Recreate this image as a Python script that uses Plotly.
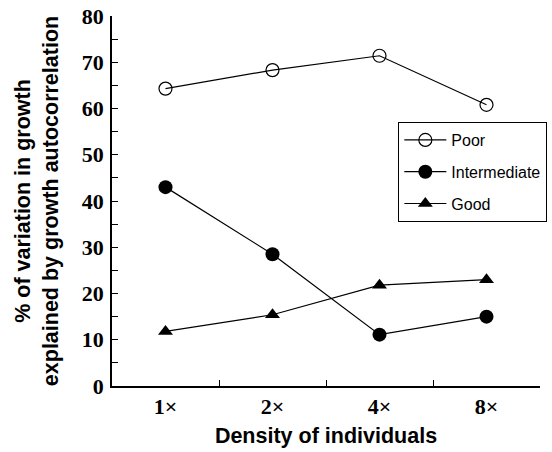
import plotly.graph_objects as go

categories = ["1×", "2×", "4×", "8×"]
poor = [64.3, 68.3, 71.4, 60.8]
intermediate = [43.0, 28.5, 11.1, 15.0]
good = [11.8, 15.4, 21.8, 23.0]

fig = go.Figure()
series = [
    ("Poor", poor, dict(symbol="circle-open", size=13, color="black", line=dict(width=1.2, color="black"))),
    ("Intermediate", intermediate, dict(symbol="circle", size=14, color="black")),
    ("Good", good, dict(symbol="triangle-up", size=13, color="black")),
]
for i, (name, vals, mk) in enumerate(series):
    fig.add_trace(go.Scatter(
        x=categories, y=vals, name=name, mode="lines+markers",
        line=dict(color="black", width=1.2), marker=mk, legendgroup=f"g{i}",
    ))

fig.update_layout(
    width=552, height=452,
    margin=dict(l=112, r=5, t=16, b=66),
    plot_bgcolor="white", paper_bgcolor="white",
    showlegend=True,
    legend=dict(
        x=0.669, y=0.7135, xanchor="left", yanchor="top",
        bordercolor="black", borderwidth=1, bgcolor="white",
        font=dict(family="Liberation Sans, Arial", size=16, color="black"),
        traceorder="grouped", tracegroupgap=8, itemwidth=42,
    ),
    xaxis=dict(
        type="category", range=[-0.5, 3.5],
        showline=True, linecolor="black", linewidth=1.5,
        ticks="inside", ticklen=6, tickwidth=1.2, tickcolor="black",
        tickson="boundaries", showgrid=False, zeroline=False,
        tickfont=dict(family="Liberation Serif, Times New Roman", size=22, color="black", weight="bold"),
        title=dict(text="<b>Density of individuals</b>", font=dict(family="Liberation Sans, Arial", size=21.5, color="black"), standoff=10),
    ),
    yaxis=dict(
        range=[0, 80], dtick=10, tick0=0,
        showline=True, linecolor="black", linewidth=1.5,
        ticks="inside", ticklen=6, tickwidth=1.2, tickcolor="black",
        minor=dict(dtick=5, ticks="inside", ticklen=6, tickwidth=1.2, tickcolor="black"),
        showgrid=False, zeroline=False,
        tickfont=dict(family="Liberation Serif, Times New Roman", size=22, color="black", weight="bold"),
        ticklabelstandoff=2,
        title=dict(text="<b>% of variation in growth<br>explained by growth autocorrelation</b>",
                   font=dict(family="Liberation Sans, Arial", size=21.5, color="black"), standoff=17),
    ),
)

fig.write_html("out.html")
